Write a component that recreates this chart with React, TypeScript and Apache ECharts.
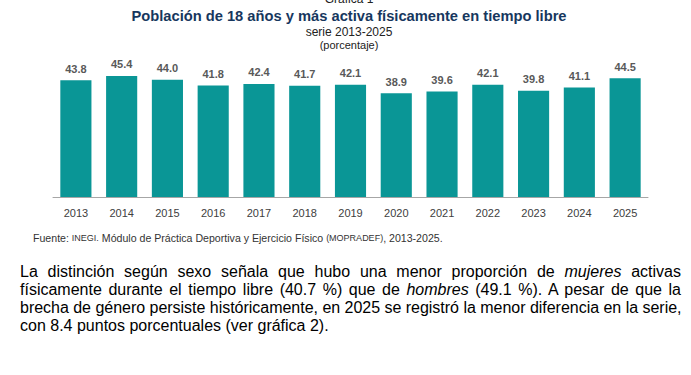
import React, { useEffect, useLayoutEffect, useRef } from "react";
import * as echarts from "echarts";

const years = ["2013", "2014", "2015", "2016", "2017", "2018", "2019", "2020", "2021", "2022", "2023", "2024", "2025"];
const values = [43.8, 45.4, 44.0, 41.8, 42.4, 41.7, 42.1, 38.9, 39.6, 42.1, 39.8, 41.1, 44.5];

const title = "Población de 18 años y más activa físicamente en tiempo libre";
const subtitle = "serie 2013-2025";
const unit = "(porcentaje)";
const line3 = "brecha de género persiste históricamente, en 2025 se registró la menor diferencia en la serie,";
const line4 = "con 8.4 puntos porcentuales (ver gráfica 2).";

const FONT = "Liberation Sans, Arial";

export default function App() {
  const ref = useRef<HTMLDivElement>(null);
  const l3 = useRef<HTMLDivElement>(null);

  useLayoutEffect(() => {
    const el = l3.current;
    if (!el) return;
    el.style.letterSpacing = "0px";
    const w = el.scrollWidth;
    const target = 661;
    if (w > target) {
      const ls = (target - w) / line3.length;
      el.style.letterSpacing = ls + "px";
    }
  }, []);

  useEffect(() => {
    if (!ref.current) return;
    const chart = echarts.init(ref.current, null, { renderer: "svg" });
    chart.setOption({
      animation: false,
      grid: { left: 53, right: 43, top: 37, bottom: 178 },
      xAxis: {
        type: "category",
        data: years,
        axisLine: { lineStyle: { color: "#a6a6a6", width: 1 } },
        axisTick: { show: false },
        axisLabel: { color: "#404040", fontSize: 11, fontFamily: FONT, margin: 10 },
      },
      yAxis: { type: "value", min: 0, max: 60, show: false, splitLine: { show: false } },
      series: [
        {
          type: "bar",
          data: values,
          barWidth: "68%",
          itemStyle: { color: "#0a9696" },
          label: {
            show: true,
            position: "top",
            distance: 6,
            color: "#595959",
            fontWeight: "bold",
            fontSize: 11,
            fontFamily: FONT,
            formatter: (p: any) => Number(p.value).toFixed(1),
          },
        },
      ],
      graphic: [
        {
          type: "text",
          x: 349,
          y: -1,
          style: { text: "Gráfica 1", fontSize: 12, fill: "#222", fontFamily: FONT, align: "center", verticalAlign: "middle" },
        },
        {
          type: "text",
          x: 349,
          y: 16,
          style: { text: title, fontSize: 14.7, fontWeight: "bold", fill: "#17375e", fontFamily: FONT, align: "center", verticalAlign: "middle" },
        },
        {
          type: "text",
          x: 349,
          y: 32,
          style: { text: subtitle, fontSize: 12, fill: "#222", fontFamily: FONT, align: "center", verticalAlign: "middle" },
        },
        {
          type: "text",
          x: 349,
          y: 45,
          style: { text: unit, fontSize: 11, fill: "#222", fontFamily: FONT, align: "center", verticalAlign: "middle" },
        },
        {
          type: "text",
          x: 33,
          y: 238,
          style: {
            text: "{a|Fuente: }{b|INEGI.}{a| Módulo de Práctica Deportiva y Ejercicio Físico }{b|(MOPRADEF)}{a|, 2013-2025.}",
            verticalAlign: "middle",
            rich: {
              a: { fontSize: 10.6, fill: "#333", fontFamily: FONT },
              b: { fontSize: 9, fill: "#333", fontFamily: FONT },
            },
          },
        },
      ],
    });
    return () => chart.dispose();
  }, []);

  const pStyle: React.CSSProperties = {
    fontFamily: "'Liberation Sans', Arial, sans-serif",
    fontSize: 16,
    lineHeight: "18px",
    color: "#000",
  };

  return (
    <div style={{ position: "fixed", left: 0, top: 0, width: 691, height: 375, background: "#fff", overflow: "hidden" }}>
      <div ref={ref} style={{ position: "absolute", left: 0, top: 0, width: 691, height: 375 }} />
      <div style={{ position: "absolute", left: 20, top: 263, width: 661 }}>
        <div style={{ ...pStyle, textAlign: "justify", textAlignLast: "justify" }}>
          La distinción según sexo señala que hubo una menor proporción de <i>mujeres</i> activas físicamente durante el tiempo libre (40.7 %) que de <i>hombres</i> (49.1 %). A pesar de que la
        </div>
        <div ref={l3} style={{ ...pStyle, whiteSpace: "nowrap", width: 661, textAlign: "justify", textAlignLast: "justify" }}>
          {line3}
        </div>
        <div style={pStyle}>{line4}</div>
      </div>
    </div>
  );
}
